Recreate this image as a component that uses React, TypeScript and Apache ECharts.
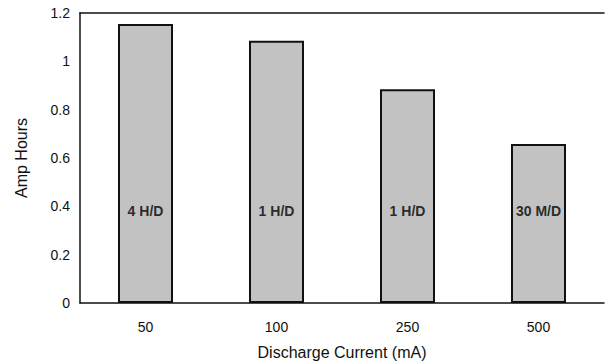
import React, { useEffect, useRef } from "react";
import * as echarts from "echarts";

const categories = ["50", "100", "250", "500"];
const ampHours = [1.155, 1.085, 0.885, 0.658];
const barLabels = ["4 H/D", "1 H/D", "1 H/D", "30 M/D"];
const labelLevel = [0.38, 0.38, 0.38, 0.38];

export default function App() {
  const ref = useRef<HTMLDivElement>(null);
  useEffect(() => {
    if (!ref.current) return;
    const chart = echarts.init(ref.current, null, { renderer: "svg" });
    const font = "'Liberation Sans', Arial, Helvetica, sans-serif";
    chart.setOption({
      animation: false,
      backgroundColor: "#ffffff",
      textStyle: { fontFamily: font },
      grid: { left: 80, right: 3, top: 13, bottom: 59, containLabel: false, outerBoundsMode: "none" },
      xAxis: [
        {
          type: "category",
          data: categories,
          axisLine: { show: true, lineStyle: { color: "#111", width: 1.5 } },
          axisTick: { show: false },
          axisLabel: { color: "#111", fontSize: 14, fontWeight: 500, margin: 17, fontFamily: font },
          name: "Discharge Current (mA)",
          nameLocation: "middle",
          nameGap: 41,
          nameTextStyle: { color: "#111", fontSize: 16, fontFamily: font },
        },
        {
          type: "category",
          data: categories,
          position: "top",
          axisLine: { show: true, lineStyle: { color: "#111", width: 1.5 } },
          axisTick: { show: false },
          axisLabel: { show: false },
        },
      ],
      yAxis: {
        type: "value",
        min: 0,
        max: 1.2,
        interval: 0.2,
        axisLine: { show: true, lineStyle: { color: "#111", width: 1.5 } },
        axisTick: { show: false },
        splitLine: { show: false },
        axisLabel: { color: "#111", fontSize: 14, fontWeight: 500, margin: 10, fontFamily: font },
        name: "Amp Hours",
        nameLocation: "middle",
        nameGap: 51,
        nameTextStyle: { color: "#111", fontSize: 16, fontFamily: font },
      },
      series: [
        {
          type: "bar",
          data: ampHours,
          barWidth: "42%",
          itemStyle: { color: "#c2c2c2", borderColor: "#111", borderWidth: 2 },
        },
        {
          type: "scatter",
          data: labelLevel,
          symbolSize: 0,
          silent: true,
          label: {
            show: true,
            position: "inside",
            color: "#000",
            fontSize: 14,
            fontWeight: "bold",
            fontFamily: font,
            formatter: (p: any) => barLabels[p.dataIndex],
          },
        },
      ],
    });
    return () => chart.dispose();
  }, []);
  return <div ref={ref} style={{ width: 607, height: 362, position: "absolute", left: 0, top: 0 }} />;
}
